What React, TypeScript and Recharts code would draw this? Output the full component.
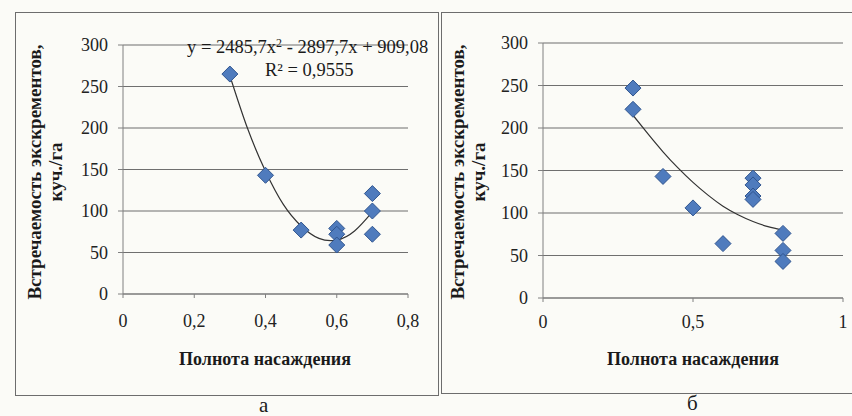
import React from "react";
import {
  ComposedChart,
  Scatter,
  Line,
  XAxis,
  YAxis,
  CartesianGrid,
} from "recharts";

// ---- data: chart "а" ----
const leftX = [0.3, 0.4, 0.5, 0.6, 0.6, 0.6, 0.7, 0.7, 0.7];
const leftY = [265, 143, 77, 79, 72, 59, 121, 100, 72];
const leftTrendX = [0.3, 0.35, 0.4, 0.45, 0.5, 0.55, 0.6, 0.65, 0.7];
const leftTrendY = [263, 199, 148, 108, 82, 67, 65, 76, 99];
const leftXTicks = [0, 0.2, 0.4, 0.6, 0.8];

// ---- data: chart "б" ----
const rightX = [0.3, 0.3, 0.4, 0.5, 0.6, 0.7, 0.7, 0.7, 0.7, 0.8, 0.8, 0.8];
const rightY = [247, 222, 143, 106, 64, 141, 133, 120, 116, 76, 56, 43];
const rightTrendX = [0.3, 0.35, 0.4, 0.45, 0.5, 0.55, 0.6, 0.65, 0.7, 0.75, 0.8];
const rightTrendY = [215, 193, 172, 153, 136, 121, 108, 98, 90, 84, 80];
const rightXTicks = [0, 0.5, 1];

const yTicks = [0, 50, 100, 150, 200, 250, 300];

const yTitle1 = "Встречаемость экскрементов,";
const yTitle2 = "куч./га";
const xTitle = "Полнота насаждения";
const equation1 = "y = 2485,7x";
const equation2 = " - 2897,7x + 909,08";
const rSquared = "R² = 0,9555";
const labelA = "а";
const labelB = "б";

const zip = (xs: number[], ys: number[]) => xs.map((x, i) => ({ x, y: ys[i] }));

const SERIF = "Liberation Serif, DejaVu Serif, serif";
const GRID = "#6f6f6f";
const AXIS = "#808080";

const Diamond = (props: any) => {
  const { cx, cy } = props;
  if (cx == null || cy == null) return null;
  const r = 8;
  return (
    <path
      d={`M${cx},${cy - r}L${cx + r},${cy}L${cx},${cy + r}L${cx - r},${cy}Z`}
      fill="#4f7bbd"
      stroke="#30558f"
      strokeWidth={1}
    />
  );
};

const fmt = (v: number) => String(v).replace(".", ",");

type PanelProps = {
  left: number;
  top: number;
  width: number;
  height: number;
  margin: { top: number; right: number; bottom: number; left: number };
  xDomain: [number, number];
  xTicks: number[];
  points: { x: number; y: number }[];
  trend: { x: number; y: number }[];
  tickMarginX: number;
};

const Panel = (p: PanelProps) => (
  <div style={{ position: "absolute", left: p.left, top: p.top, fontFamily: SERIF }}>
    <ComposedChart width={p.width} height={p.height} margin={p.margin}>
      <CartesianGrid horizontal={true} vertical={false} stroke={GRID} strokeWidth={1.2} />
      <XAxis
        type="number"
        dataKey="x"
        domain={p.xDomain}
        ticks={p.xTicks}
        tickFormatter={fmt}
        allowDataOverflow
        height={30}
        stroke={AXIS}
        tickSize={4}
        tickMargin={p.tickMarginX}
        tick={{ fontSize: 18, fontFamily: SERIF, fill: "#222" }}
      />
      <YAxis
        type="number"
        dataKey="y"
        domain={[0, 300]}
        ticks={yTicks}
        width={60}
        stroke={AXIS}
        tickSize={5}
        tickMargin={10}
        tick={{ fontSize: 18, fontFamily: SERIF, fill: "#222" }}
      />
      <Line
        data={p.trend}
        dataKey="y"
        type="natural"
        stroke="#333"
        strokeWidth={1.2}
        dot={false}
        activeDot={false}
        isAnimationActive={false}
      />
      <Scatter data={p.points} dataKey="y" shape={<Diamond />} isAnimationActive={false} />
    </ComposedChart>
  </div>
);

const textBase: React.CSSProperties = {
  position: "absolute",
  fontFamily: SERIF,
  color: "#1a1a1a",
  whiteSpace: "nowrap",
};

const YTitle = ({ cx, cy }: { cx: number; cy: number }) => (
  <div
    style={{
      ...textBase,
      left: cx,
      top: cy,
      width: 300,
      marginLeft: -150,
      marginTop: -21,
      textAlign: "center",
      fontSize: 19,
      fontWeight: "bold",
      lineHeight: "21px",
      transform: "rotate(-90deg)",
    }}
  >
    <div>{yTitle1}</div>
    <div>{yTitle2}</div>
  </div>
);

const XTitle = ({ cx, cy }: { cx: number; cy: number }) => (
  <div
    style={{
      ...textBase,
      left: cx - 150,
      top: cy - 10,
      width: 300,
      textAlign: "center",
      fontSize: 18,
      fontWeight: "bold",
      lineHeight: "20px",
    }}
  >
    {xTitle}
  </div>
);

export default function App() {
  return (
    <div
      style={{
        position: "absolute",
        left: 0,
        top: 0,
        width: 852,
        height: 416,
        background: "#fbfbf7",
        overflow: "hidden",
      }}
    >
      {/* frames */}
      <div
        style={{
          position: "absolute",
          left: 15,
          top: 12,
          width: 422,
          height: 382,
          border: "1px solid #6d6d6d",
        }}
      />
      <div
        style={{
          position: "absolute",
          left: 441,
          top: 12,
          width: 420,
          height: 380,
          border: "1px solid #6d6d6d",
        }}
      />

      <Panel
        left={15}
        top={12}
        width={423}
        height={383}
        margin={{ top: 33, right: 30, bottom: 71, left: 48 }}
        xDomain={[0, 0.8]}
        xTicks={leftXTicks}
        points={zip(leftX, leftY)}
        trend={zip(leftTrendX, leftTrendY)}
        tickMarginX={16}
      />
      <Panel
        left={441}
        top={12}
        width={411}
        height={381}
        margin={{ top: 31, right: 9, bottom: 65, left: 42 }}
        xDomain={[0, 1]}
        xTicks={rightXTicks}
        points={zip(rightX, rightY)}
        trend={zip(rightTrendX, rightTrendY)}
        tickMarginX={13}
      />

      {/* trendline equation */}
      <div style={{ ...textBase, left: 187, top: 37, fontSize: 18.5, lineHeight: "20px" }}>
        {equation1}
        <sup style={{ fontSize: 12, verticalAlign: "6px", lineHeight: 0 }}>2</sup>
        {equation2}
      </div>
      <div style={{ ...textBase, left: 265, top: 60, fontSize: 18.5, lineHeight: "20px" }}>
        {rSquared}
      </div>

      <YTitle cx={45} cy={172} />
      <YTitle cx={468} cy={172} />
      <XTitle cx={265} cy={359} />
      <XTitle cx={693} cy={359} />

      <div style={{ ...textBase, left: 259, top: 395, fontSize: 21, lineHeight: "20px" }}>{labelA}</div>
      <div style={{ ...textBase, left: 687, top: 393, fontSize: 21, lineHeight: "20px" }}>{labelB}</div>
    </div>
  );
}
